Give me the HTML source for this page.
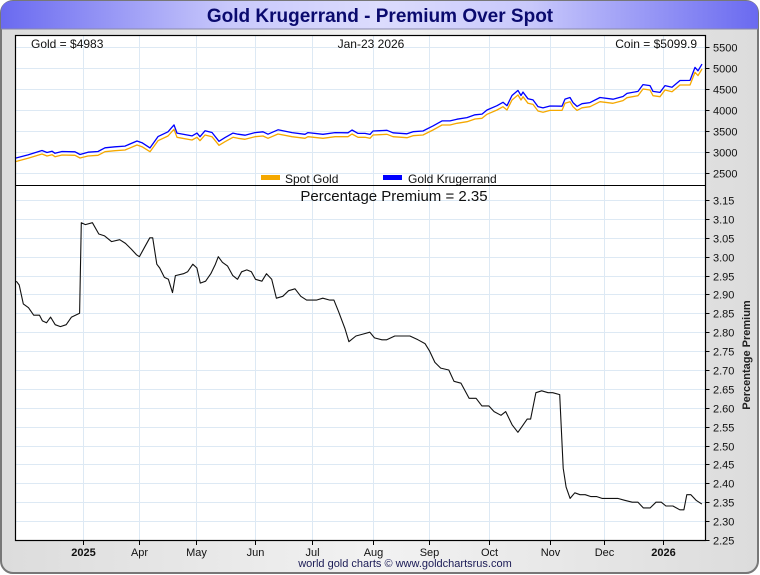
<!DOCTYPE html>
<html><head><meta charset="utf-8"><style>
html,body{margin:0;padding:0;background:#fff;}
svg{display:block;font-family:"Liberation Sans",sans-serif;}
</style></head><body>
<svg width="760" height="575" viewBox="0 0 760 575">
<defs>
<linearGradient id="hdr" x1="0" x2="1" y1="0" y2="0">
<stop offset="0" stop-color="#6a6af0"/><stop offset="0.3" stop-color="#c8c8fb"/><stop offset="0.5" stop-color="#dcdcfd"/><stop offset="0.7" stop-color="#c8c8fb"/><stop offset="1" stop-color="#6a6af0"/>
</linearGradient>
<linearGradient id="bg" x1="0" x2="1" y1="0" y2="0">
<stop offset="0" stop-color="#dcdcdc"/><stop offset="0.5" stop-color="#f2f2f2"/><stop offset="1" stop-color="#dcdcdc"/>
</linearGradient>
</defs>
<rect x="1" y="1" width="757" height="572" rx="12" fill="url(#bg)" stroke="#777" stroke-width="2"/>
<path d="M1,29 L1,13 Q1,1 13,1 L746,1 Q758,1 758,13 L758,29 Z" fill="url(#hdr)"/>
<line x1="1" y1="29" x2="758" y2="29" stroke="#8888aa" stroke-width="1"/>
<text x="380" y="22" text-anchor="middle" font-size="19" font-weight="bold" fill="#0a0a6e">Gold Krugerrand - Premium Over Spot</text>
<rect x="15.5" y="35.5" width="690" height="505" fill="#fff"/>
<g id="grid"></g>
<g id="series"></g>
<line x1="15.5" y1="185.5" x2="705.5" y2="185.5" stroke="#000" stroke-width="1"/>
<rect x="15.5" y="35.5" width="690" height="505" fill="none" stroke="#000" stroke-width="1.2"/>
<g id="axes" font-size="11" fill="#111"></g>
<text x="31" y="48" font-size="12" fill="#111">Gold = $4983</text>
<text x="371" y="48" font-size="12" text-anchor="middle" fill="#111">Jan-23  2026</text>
<text x="697" y="48" font-size="12" text-anchor="end" fill="#111">Coin = $5099.9</text>
<g>
<rect x="261" y="175" width="19" height="5" fill="#f5a800"/>
<text x="285" y="183" font-size="12" fill="#111">Spot Gold</text>
<rect x="383" y="175" width="19" height="5" fill="#0000ff"/>
<text x="408" y="183" font-size="12" fill="#111">Gold Krugerrand</text>
</g>
<text x="394" y="201" font-size="15" text-anchor="middle" fill="#111">Percentage Premium = 2.35</text>
<text transform="translate(750,355) rotate(-90)" font-size="11" font-weight="bold" text-anchor="middle" fill="#222">Percentage Premium</text>
<text x="405" y="567" font-size="11" text-anchor="middle" fill="#1a1a55">world gold charts © www.goldchartsrus.com</text>
</svg>
<script>
// x values in "month" units: 0 = 2025 tick, 10 = 2026 tick
const monthLabels = ["2025","Apr","May","Jun","Jul","Aug","Sep","Oct","Nov","Dec","2026"];
const monthTicks = [0,0.98,1.95,2.97,3.95,5.0,5.97,7.0,8.05,8.98,10.0];
const priceTicks = [2500,3000,3500,4000,4500,5000,5500];
const premTicks = [2.25,2.30,2.35,2.40,2.45,2.50,2.55,2.60,2.65,2.70,2.75,2.80,2.85,2.90,2.95,3.00,3.05,3.10,3.15];
const premDates = [-1.14,-1.09,-1.02,-0.93,-0.84,-0.74,-0.69,-0.62,-0.55,-0.47,-0.38,-0.28,-0.19,-0.05,-0.02,0.05,0.17,0.28,0.38,0.5,0.64,0.74,0.84,0.93,0.98,1.07,1.16,1.21,1.28,1.33,1.41,1.48,1.55,1.6,1.74,1.81,1.9,1.97,2.03,2.12,2.21,2.29,2.34,2.41,2.5,2.59,2.67,2.74,2.83,2.91,2.98,3.09,3.17,3.26,3.34,3.45,3.55,3.66,3.76,3.86,4.03,4.14,4.26,4.33,4.41,4.52,4.59,4.71,4.83,4.95,5.03,5.16,5.24,5.38,5.5,5.64,5.78,5.9,5.98,6.07,6.17,6.31,6.4,6.52,6.66,6.78,6.88,7.0,7.09,7.21,7.29,7.4,7.5,7.57,7.66,7.72,7.81,7.91,8.02,8.1,8.22,8.28,8.33,8.4,8.48,8.57,8.66,8.76,8.86,8.95,9.09,9.22,9.34,9.47,9.57,9.66,9.78,9.88,9.97,10.05,10.17,10.29,10.36,10.41,10.48,10.57,10.62,10.67];
const premValues = [2.935,2.925,2.875,2.865,2.845,2.845,2.83,2.825,2.84,2.82,2.815,2.82,2.84,2.85,3.09,3.085,3.09,3.06,3.055,3.04,3.045,3.035,3.02,3.005,3.0,3.025,3.05,3.05,2.98,2.97,2.945,2.94,2.905,2.95,2.955,2.96,2.98,2.97,2.93,2.935,2.955,2.98,3.0,2.985,2.975,2.95,2.94,2.96,2.965,2.96,2.94,2.935,2.955,2.94,2.89,2.895,2.91,2.915,2.895,2.885,2.885,2.89,2.885,2.885,2.855,2.81,2.775,2.79,2.795,2.8,2.785,2.78,2.78,2.79,2.79,2.79,2.78,2.77,2.75,2.72,2.705,2.70,2.67,2.665,2.625,2.625,2.605,2.605,2.59,2.58,2.59,2.555,2.535,2.55,2.57,2.57,2.64,2.645,2.64,2.64,2.635,2.44,2.39,2.36,2.375,2.37,2.37,2.365,2.365,2.36,2.36,2.36,2.355,2.35,2.35,2.335,2.335,2.35,2.35,2.34,2.34,2.33,2.33,2.37,2.37,2.355,2.35,2.345];
const goldDates = [-1.163,-0.939,-0.698,-0.612,-0.525,-0.474,-0.353,-0.129,-0.043,0.095,0.267,0.388,0.560,0.732,0.939,1.025,1.163,1.301,1.473,1.576,1.628,1.886,1.973,2.024,2.110,2.231,2.351,2.455,2.593,2.679,2.799,2.972,3.110,3.196,3.368,3.609,3.833,3.885,4.143,4.350,4.574,4.643,4.746,4.867,4.953,5.004,5.245,5.349,5.590,5.693,5.866,6.038,6.193,6.331,6.451,6.624,6.761,6.882,6.968,7.140,7.244,7.313,7.399,7.502,7.554,7.588,7.674,7.761,7.847,7.933,8.054,8.260,8.312,8.398,8.450,8.519,8.605,8.743,8.915,9.139,9.311,9.380,9.570,9.656,9.776,9.828,9.948,10.034,10.155,10.293,10.465,10.551,10.603,10.672];
const spotValues = [2776,2857,2960,2912,2943,2895,2936,2929,2864,2912,2929,3014,3038,3055,3174,3133,3014,3276,3388,3548,3357,3293,3357,3276,3412,3371,3167,3252,3357,3333,3310,3371,3388,3333,3436,3371,3333,3371,3333,3371,3371,3436,3357,3357,3333,3412,3428,3371,3348,3395,3412,3531,3650,3650,3690,3729,3793,3810,3905,4007,4086,4007,4245,4364,4245,4324,4167,4140,3983,3952,3998,3998,4167,4205,4086,3998,4060,4086,4205,4167,4230,4300,4348,4507,4483,4348,4324,4483,4443,4602,4602,4905,4826,4983];

const NS="http://www.w3.org/2000/svg";
const X0=82.5, PXM=58.05, L=15.5, R=705.5;
function xs(t){return X0+t*PXM;}
function yTop(v){return 173.3-(v-2500)*(126/3000);}
function yBot(v){return 540-(v-2.25)*(340/0.9);}
function premAt(t){
  if(t<=premDates[0])return premValues[0];
  for(let i=1;i<premDates.length;i++){if(t<=premDates[i]){const f=(t-premDates[i-1])/(premDates[i]-premDates[i-1]);return premValues[i-1]+f*(premValues[i]-premValues[i-1]);}}
  return premValues[premValues.length-1];
}
const coinValues = spotValues.map((v,i)=>v*(1+premAt(goldDates[i])/100));
function mk(tag,attrs,parent){const e=document.createElementNS(NS,tag);for(const k in attrs)e.setAttribute(k,attrs[k]);parent.appendChild(e);return e;}
const grid=document.getElementById('grid'), axes=document.getElementById('axes'), series=document.getElementById('series');
monthTicks.forEach((t,i)=>{
  const x=Math.round(xs(t))+0.5;
  const gl=mk('line',{x1:x,y1:36,x2:x,y2:540,stroke:'#dde9f4','stroke-width':1},grid);
  
  
  mk('line',{x1:x,y1:540,x2:x,y2:545,stroke:'#000'},axes);
  const tx=mk('text',{x:x,y:556,'text-anchor':'middle','font-weight':(i==0||i==10)?'bold':'normal'},axes);
  tx.textContent=monthLabels[i];
  
  
});
priceTicks.forEach(v=>{
  const y=Math.round(yTop(v))+0.5;
  const gl=mk('line',{x1:L,y1:y,x2:R,y2:y,stroke:'#dde9f4','stroke-width':1},grid);
  
  
  mk('line',{x1:R,y1:y,x2:R+4,y2:y,stroke:'#000'},axes);
  const tx=mk('text',{x:713,y:y+4},axes);
  tx.textContent=v;
  
  
});
premTicks.forEach(v=>{
  const y=Math.round(yBot(v))+0.5;
  if(v>2.25){
  const gl=mk('line',{x1:L,y1:y,x2:R,y2:y,stroke:'#dde9f4','stroke-width':1},grid);
  
  }
  mk('line',{x1:R,y1:y,x2:R+4,y2:y,stroke:'#000'},axes);
  const tx=mk('text',{x:713,y:y+4},axes);
  tx.textContent=v.toFixed(2);
  
  
});
function line(dates,vals,yf,color,w){
  const d=dates.map((t,i)=>(i?'L':'M')+xs(t).toFixed(1)+','+yf(vals[i]).toFixed(1)).join(' ');
  return mk('path',{d:d,fill:'none',stroke:color,'stroke-width':w,'stroke-linejoin':'round'},series);
}
const p1=line(goldDates,spotValues,yTop,'#f5a800',1.3);


const p2=line(goldDates,coinValues,yTop,'#0000ff',1.3);


const p3=line(premDates,premValues,yBot,'#111',1.1);


</script>
</body></html>
